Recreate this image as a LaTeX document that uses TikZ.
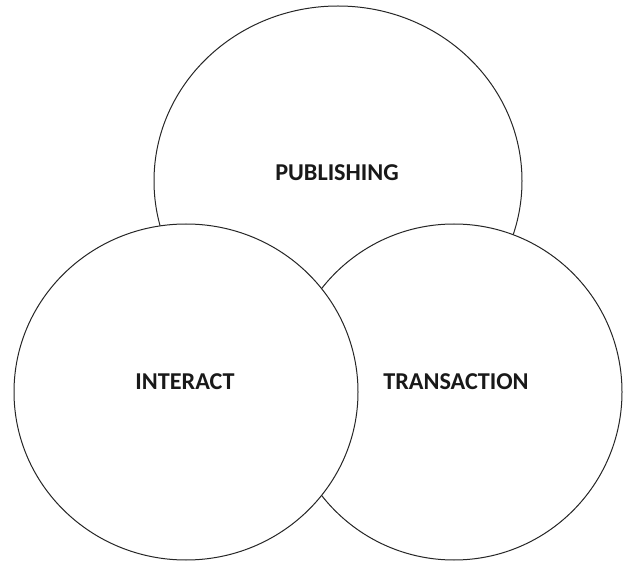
\documentclass[tikz,border=0pt]{standalone}
\usepackage{fontspec}
\setmainfont{Carlito}
\usetikzlibrary{shapes.geometric}
\tikzset{
  blob/.style={ellipse, draw=black!85, line width=1pt, fill=white, inner sep=0pt},
  lbl/.style={font=\fontsize{24.2}{26}\selectfont\bfseries, text=black!90, inner sep=0pt}
}
\begin{document}
\begin{tikzpicture}[x=1pt,y=1pt]
\useasboundingbox (0,0) rectangle (624,563);
\node[blob, minimum width=368pt, minimum height=350pt] (pub) at (338,382) {};
\node[blob, minimum width=336pt, minimum height=336pt] (tra) at (454,171) {};
\node[blob, minimum width=344pt, minimum height=336pt] (int) at (186,171) {};
\node[lbl] (tpub) at (337,390) {PUBLISHING};
\node[lbl] (tint) at (185,181) {INTERACT};
\node[lbl] (ttra) at (456,181) {TRANSACTION};
\end{tikzpicture}
\end{document}
